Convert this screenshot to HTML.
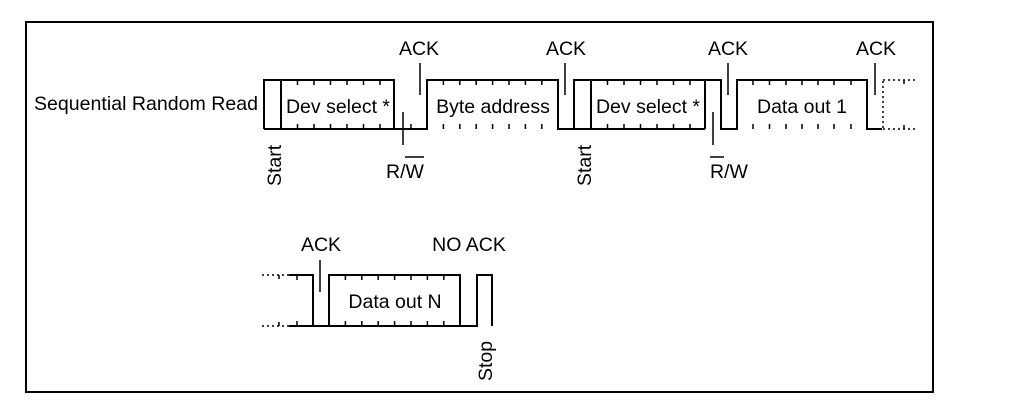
<!DOCTYPE html>
<html><head><meta charset="utf-8"><style>body{margin:0;background:#fff}svg{display:block}</style></head><body>
<svg width="1019" height="413" viewBox="0 0 1019 413" xmlns="http://www.w3.org/2000/svg" font-family="Liberation Sans, sans-serif" fill="none" stroke="#000">
<rect x="26" y="22" width="907" height="370" stroke-width="2"/>
<g stroke-width="2">
<polyline points="264,129 264,80 394,80 394,129"/>
<line x1="281" y1="80" x2="281" y2="129"/>
<polyline points="264,129 427,129 427,80 558,80 558,129 574,129"/>
<polyline points="574,129 574,80 705,80 705,129"/>
<line x1="591" y1="80" x2="591" y2="129"/>
<polyline points="705,80 721,80 721,129 737,129 737,80 867,80 867,129 882,129"/>
<line x1="574" y1="129" x2="705" y2="129"/>
<polyline points="289,275 313,275 313,326 329,326 329,275 460,275 460,326 477,326 477,275 492,275 492,326"/>
<line x1="289" y1="326" x2="477" y2="326"/>
</g>
<g stroke-width="1.5">
<line x1="403" y1="112" x2="403" y2="145"/>
<line x1="713" y1="112" x2="713" y2="145"/>
<line x1="420" y1="63" x2="420" y2="95"/>
<line x1="565" y1="63" x2="565" y2="95"/>
<line x1="728" y1="63" x2="728" y2="95"/>
<line x1="875" y1="63" x2="875" y2="95"/>
<line x1="320" y1="260" x2="320" y2="292"/>
</g>
<g stroke-width="1.5" stroke-dasharray="2,3">
<line x1="883" y1="81" x2="883" y2="129"/>
<line x1="883" y1="80" x2="916" y2="80"/>
<line x1="883" y1="129" x2="916" y2="129"/>
<line x1="262" y1="275" x2="289" y2="275"/>
<line x1="262" y1="326" x2="289" y2="326"/>
</g>
<g stroke-width="1.5">
<path d="M297.5 80v5M314 80v5M330.5 80v5M347 80v5M363.5 80v5M380 80v5M297.5 129v-5M314 129v-5M330.5 129v-5M347 129v-5M363.5 129v-5M380 129v-5M411 129v-5"/>
<path d="M443.4 80v5M459.8 80v5M476.2 80v5M492.6 80v5M509 80v5M525.4 80v5M541.8 80v5M443.4 129v-5M459.8 129v-5M476.2 129v-5M492.6 129v-5M509 129v-5M525.4 129v-5M541.8 129v-5"/>
<path d="M607.5 80v5M624 80v5M640.5 80v5M657 80v5M673.5 80v5M690 80v5M607.5 129v-5M624 129v-5M640.5 129v-5M657 129v-5M673.5 129v-5M690 129v-5"/>
<path d="M753 80v5M769.5 80v5M786 80v5M802 80v5M818 80v5M834 80v5M851 80v5M753 129v-5M769.5 129v-5M786 129v-5M802 129v-5M818 129v-5M834 129v-5M851 129v-5"/>
<path d="M345.4 275v5M361.8 275v5M378.2 275v5M394.6 275v5M411 275v5M427.4 275v5M443.8 275v5M345.4 326v-5M361.8 326v-5M378.2 326v-5M394.6 326v-5M411 326v-5M427.4 326v-5M443.8 326v-5"/>
<path d="M297 275v5M297 326v-5M904 80v4M904 129v-4M279 275v4M279 326v-4"/>
<path d="M405 157h19M710 157h14"/>
</g>
<g fill="#000" stroke="none" font-size="19.5">
<text x="34" y="110" textLength="224" lengthAdjust="spacingAndGlyphs">Sequential Random Read</text>
<text x="338" y="113" text-anchor="middle">Dev select *</text>
<text x="493" y="113" text-anchor="middle">Byte address</text>
<text x="648" y="113" text-anchor="middle">Dev select *</text>
<text x="802" y="113" text-anchor="middle">Data out 1</text>
<text x="395" y="308" text-anchor="middle">Data out N</text>
<text x="419" y="55" text-anchor="middle">ACK</text>
<text x="566" y="55" text-anchor="middle">ACK</text>
<text x="728" y="55" text-anchor="middle">ACK</text>
<text x="876" y="55" text-anchor="middle">ACK</text>
<text x="321" y="251" text-anchor="middle">ACK</text>
<text x="469" y="251" text-anchor="middle">NO ACK</text>
<text x="405" y="178" text-anchor="middle">R/W</text>
<text x="729" y="178" text-anchor="middle">R/W</text>
<text transform="translate(281,186) rotate(-90)">Start</text>
<text transform="translate(591,186) rotate(-90)">Start</text>
<text transform="translate(492,381) rotate(-90)">Stop</text>
</g>
</svg>
</body></html>
